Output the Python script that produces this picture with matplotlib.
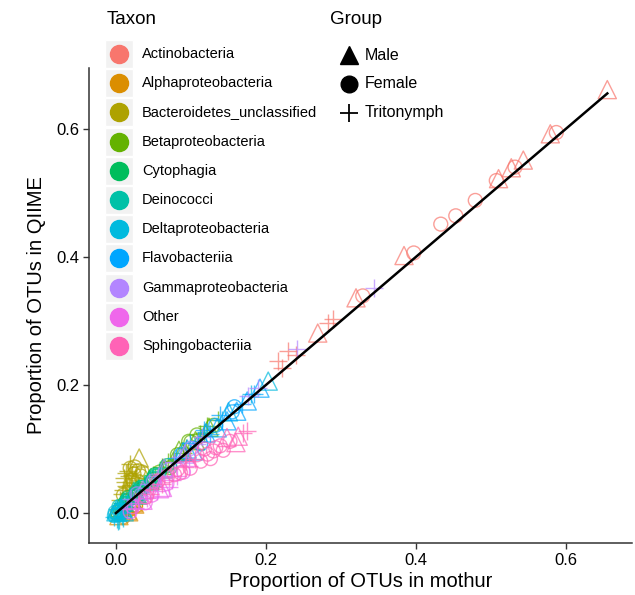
import matplotlib
matplotlib.use("Agg")
import matplotlib.pyplot as plt
from matplotlib.lines import Line2D
from matplotlib.patches import Rectangle
import numpy as np

plt.rcParams['font.family'] = ['Liberation Sans', 'DejaVu Sans']

# Taxon names and ggplot hue colours
taxa = ['Actinobacteria', 'Alphaproteobacteria', 'Bacteroidetes_unclassified',
        'Betaproteobacteria', 'Cytophagia', 'Deinococci', 'Deltaproteobacteria',
        'Flavobacteriia', 'Gammaproteobacteria', 'Other', 'Sphingobacteriia']
colors = ['#F8766D', '#DB8E00', '#AEA200', '#64B200', '#00BD5C', '#00C1A7',
          '#00BADE', '#00A6FF', '#B385FF', '#EF67EB', '#FF63B6']

groups = ['Male', 'Female', 'Tritonymph']
group_codes = ['M', 'F', 'T']

# mothur (x), QIIME (y), group code per point
actino_x = [0.655, 0.579, 0.543, 0.527, 0.510, 0.384, 0.320, 0.269,
            0.587, 0.532, 0.507, 0.479, 0.453, 0.433, 0.397, 0.329,
            0.289, 0.283, 0.229, 0.216, 0.240, 0.222]
actino_y = [0.661, 0.592, 0.551, 0.539, 0.522, 0.402, 0.336, 0.281,
            0.594, 0.540, 0.519, 0.488, 0.464, 0.451, 0.406, 0.339,
            0.303, 0.296, 0.253, 0.238, 0.247, 0.226]
actino_g = "MMMMMMMMFFFFFFFFTTTTTT"

alpha_x = [0.004, 0.008, 0.012, 0.015, 0.018, 0.021, 0.025, 0.010, 0.006, 0.014,
           0.019, 0.023, 0.028, 0.002, 0.031, 0.017, 0.035, 0.026]
alpha_y = [-0.004, 0.000, 0.003, 0.004, 0.008, 0.010, 0.014, -0.006, 0.002, 0.009,
           0.006, 0.016, 0.018, 0.001, 0.020, 0.002, 0.024, 0.011]
alpha_g = "MFTMFTMFTTFMTFTMTF"

bact_x = [0.031, 0.030, 0.024, 0.027, 0.018, 0.012, 0.020, 0.009, 0.015, 0.022,
          0.026, 0.014, 0.017, 0.010, 0.006, 0.019, 0.028, 0.033, 0.011, 0.023,
          0.016, 0.025, 0.013, 0.021, 0.008, 0.029, 0.035, 0.019]
bact_y = [0.086, 0.066, 0.061, 0.055, 0.058, 0.048, 0.044, 0.036, 0.040, 0.052,
          0.047, 0.062, 0.032, 0.028, 0.020, 0.070, 0.038, 0.058, 0.054, 0.029,
          0.065, 0.072, 0.042, 0.060, 0.030, 0.050, 0.064, 0.077]
bact_g = "MFFTTTTTTFTTTFTFTFTMTFTTTFFT"

beta_x = [0.030, 0.038, 0.045, 0.052, 0.058, 0.064, 0.070, 0.076, 0.082, 0.088,
          0.094, 0.100, 0.106, 0.112, 0.118, 0.124, 0.130, 0.136, 0.072, 0.090,
          0.061, 0.084, 0.108, 0.121, 0.049, 0.097]
beta_y = [0.036, 0.041, 0.051, 0.057, 0.064, 0.069, 0.079, 0.081, 0.091, 0.096,
          0.101, 0.111, 0.113, 0.123, 0.125, 0.134, 0.137, 0.146, 0.071, 0.093,
          0.072, 0.098, 0.122, 0.136, 0.060, 0.112]
beta_g = "TFMTFMTTFMTFMTTMFTFTTMFTTF"

cyto_x = [0.005, 0.010, 0.014, 0.019, 0.024, 0.028, 0.033, 0.037, 0.042, 0.047,
          0.052, 0.057, 0.062, 0.068, 0.021, 0.040, 0.008, 0.016, 0.030, 0.045]
cyto_y = [0.009, 0.015, 0.019, 0.026, 0.030, 0.036, 0.040, 0.046, 0.049, 0.055,
          0.060, 0.064, 0.069, 0.074, 0.022, 0.041, 0.016, 0.024, 0.039, 0.052]
cyto_g = "MTFTMTFTTMFTTFMTTFTM"

deino_x = [0.002, 0.007, 0.011, 0.016, 0.020, 0.026, 0.031, 0.035, 0.039, 0.045,
           0.050, 0.055, 0.060, 0.065, 0.013, 0.029, 0.004, 0.018, 0.024, 0.041]
deino_y = [0.006, 0.012, 0.017, 0.021, 0.027, 0.031, 0.037, 0.040, 0.046, 0.050,
           0.056, 0.059, 0.066, 0.070, 0.010, 0.028, 0.010, 0.025, 0.034, 0.044]
deino_g = "TTMFTMTFTMTFTTFMFTMT"

delta_x = [-0.003, 0.000, 0.002, 0.004, 0.006, 0.001, 0.008, 0.003, -0.001, 0.005,
           0.010, 0.012, 0.007, 0.015, 0.002, 0.090, 0.120, 0.150, 0.180, 0.203,
           0.009, -0.002, 0.011, 0.004]
delta_y = [-0.006, 0.002, -0.010, 0.004, 0.000, 0.006, -0.004, -0.013, 0.001, 0.008,
           0.006, 0.011, 0.010, 0.016, -0.002, 0.096, 0.127, 0.158, 0.186, 0.206,
           -0.008, -0.004, 0.002, -0.011]
delta_g = "TMTFTMTTFTMFTTFMTMTMTFMT"

flavo_x = [0.080, 0.087, 0.095, 0.103, 0.110, 0.113, 0.120, 0.126, 0.133, 0.135,
           0.142, 0.148, 0.155, 0.161, 0.168, 0.175, 0.184, 0.192, 0.139, 0.117,
           0.158, 0.099]
flavo_y = [0.086, 0.091, 0.100, 0.097, 0.112, 0.108, 0.125, 0.123, 0.137, 0.133,
           0.146, 0.144, 0.158, 0.159, 0.170, 0.175, 0.186, 0.195, 0.153, 0.129,
           0.166, 0.109]
flavo_g = "TFMMTFMTFMTMFMTMTMTTFT"

gamma_x = [0.020, 0.028, 0.036, 0.044, 0.050, 0.056, 0.064, 0.070, 0.078, 0.085,
           0.092, 0.100, 0.108, 0.241, 0.344, 0.190, 0.033, 0.060, 0.115, 0.176]
gamma_y = [0.022, 0.030, 0.036, 0.045, 0.050, 0.058, 0.070, 0.068, 0.080, 0.088,
           0.092, 0.101, 0.108, 0.256, 0.352, 0.196, 0.028, 0.055, 0.118, 0.182]
gamma_g = "TFMTFTMFTTMFTTTTFTTT"

other_x = [0.015, 0.022, 0.030, 0.036, 0.042, 0.048, 0.055, 0.062, 0.068, 0.075,
           0.082, 0.090, 0.026, 0.058, 0.039, 0.071, 0.098, 0.019]
other_y = [0.006, 0.010, 0.016, 0.020, 0.024, 0.028, 0.034, 0.040, 0.046, 0.052,
           0.058, 0.064, 0.008, 0.038, 0.016, 0.040, 0.074, 0.002]
other_g = "TFTMTFTMFTTFTMFTTF"

sphingo_x = [0.170, 0.163, 0.152, 0.139, 0.130, 0.122, 0.113, 0.099, 0.086, 0.069, 0.056,
             0.045, 0.105, 0.118, 0.092, 0.078, 0.062, 0.148, 0.133, 0.175, 0.050, 0.040,
             0.126, 0.108, 0.094, 0.082, 0.143, 0.160]
sphingo_y = [0.125, 0.120, 0.112, 0.105, 0.097, 0.092, 0.081, 0.070, 0.063, 0.058, 0.050,
             0.030, 0.084, 0.100, 0.072, 0.060, 0.046, 0.118, 0.102, 0.128, 0.038, 0.025,
             0.085, 0.091, 0.081, 0.068, 0.098, 0.110]
sphingo_g = "TMFFFFFFFFFTTFTFTMFTTFFFTFFM"

data_x = [actino_x, alpha_x, bact_x, beta_x, cyto_x, deino_x, delta_x, flavo_x, gamma_x, other_x, sphingo_x]
data_y = [actino_y, alpha_y, bact_y, beta_y, cyto_y, deino_y, delta_y, flavo_y, gamma_y, other_y, sphingo_y]
data_g = [actino_g, alpha_g, bact_g, beta_g, cyto_g, deino_g, delta_g, flavo_g, gamma_g, other_g, sphingo_g]

markers = {'M': '^', 'F': 'o', 'T': '+'}
sizes = {'M': 170, 'F': 100, 'T': 160}

W, H = 635, 595
fig = plt.figure(figsize=(W / 100, H / 100), dpi=100)
ax = fig.add_axes([89 / W, 1 - 543 / H, 543 / W, 475 / H])

for xs, ys, gs, col in zip(data_x, data_y, data_g, colors):
    xs = np.array(xs)
    ys = np.array(ys)
    gs = np.array(list(gs))
    for code in group_codes:
        m = gs == code
        if code == 'T':
            ax.scatter(xs[m], ys[m], marker='+', s=sizes[code], c=col,
                       linewidths=1.0, alpha=0.7)
        else:
            ax.scatter(xs[m], ys[m], marker=markers[code], s=sizes[code],
                       facecolors='none', edgecolors=col, linewidths=1.0, alpha=0.7)

# 1:1 reference line
all_x = np.concatenate([np.array(v) for v in data_x])
all_y = np.concatenate([np.array(v) for v in data_y])
top = all_x.max()
ax.plot([0, top], [0, top], color='black', lw=1.8, zorder=5)

# ggplot-style 5% expansion
def expand(v):
    r = v.max() - v.min()
    return v.min() - 0.05 * r, v.max() + 0.05 * r

ax.set_xlim(*expand(all_x))
ax.set_ylim(*expand(all_y))
ax.set_xticks([0, 0.2, 0.4, 0.6])
ax.set_yticks([0, 0.2, 0.4, 0.6])
ax.xaxis.set_major_formatter(matplotlib.ticker.FormatStrFormatter('%.1f'))
ax.yaxis.set_major_formatter(matplotlib.ticker.FormatStrFormatter('%.1f'))
for s in ['top', 'right']:
    ax.spines[s].set_visible(False)
for s in ['left', 'bottom']:
    ax.spines[s].set_color('#333333')
    ax.spines[s].set_linewidth(1.1)
ax.tick_params(length=4, width=1, color='#333333', labelsize=12, labelcolor='black', pad=3)
ax.set_xlabel('Proportion of OTUs in mothur', fontsize=14.5, labelpad=3)
ax.set_ylabel('Proportion of OTUs in QIIME', fontsize=14.5, labelpad=7)

# legends drawn in figure pixel coordinates
def fx(px):
    return px / W

def fy(py):
    return 1 - py / H

fig.text(fx(107), fy(20), 'Taxon', fontsize=13.5, va='center', ha='left')
row_h = 29.2
for i, (name, col) in enumerate(zip(taxa, colors)):
    cy = 54 + row_h * i
    fig.add_artist(Rectangle((fx(105), fy(cy + 14)), 28 / W, 28 / H,
                             transform=fig.transFigure, facecolor='#F2F2F2',
                             edgecolor='white', lw=1))
    fig.add_artist(Line2D([fx(119)], [fy(cy)], marker='o', markersize=13,
                          color=col, lw=0, transform=fig.transFigure))
    fig.text(fx(142), fy(cy), name, fontsize=10.5, va='center', ha='left')

fig.text(fx(330), fy(20), 'Group', fontsize=13.5, va='center', ha='left')
for i, (name, code) in enumerate(zip(groups, group_codes)):
    cy = 55 + 29 * i
    mk = {'M': '^', 'F': 'o', 'T': '+'}[code]
    fig.add_artist(Line2D([fx(349)], [fy(cy)], marker=mk, markersize=13 if code != 'F' else 12,
                          color='black', markeredgewidth=1.3 if code == 'T' else 1,
                          lw=0, transform=fig.transFigure))
    fig.text(fx(365), fy(cy), name, fontsize=11.5, va='center', ha='left')

fig.savefig('out.png', dpi=100)
